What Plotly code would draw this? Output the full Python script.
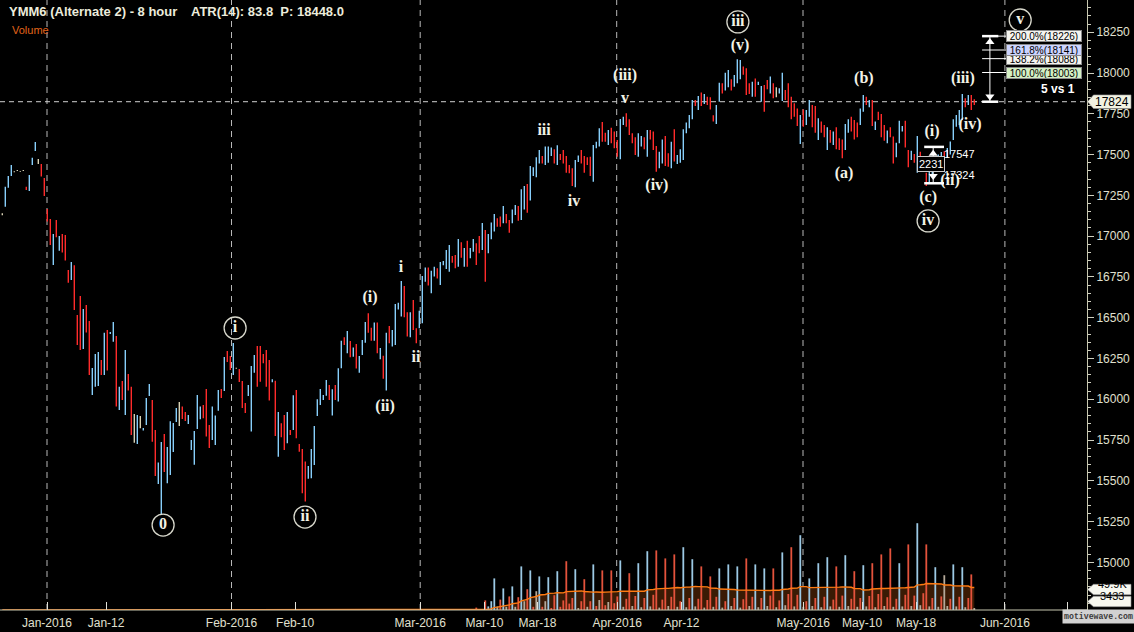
import plotly.graph_objects as go
import pandas as pd

# ---------------- data (8-hour bars, index 1..325) ----------------
high = [
17140,17303,17369,17436,17398,17406,17400,17406,17303,17375,
17481,17577,17473,17442,17356,17166,17105,17013,17099,17001,
17013,17007,16793,16842,16821,16517,16633,16554,16578,16480,
16192,16278,16290,16241,16407,16425,16413,16474,16388,16077,
16112,16302,16155,16077,15910,15904,15898,15824,16008,16094,
15996,15812,15612,15738,15787,15708,15865,15855,15947,15984,
15955,15922,15904,15751,15806,16026,15955,15965,16063,15843,
15955,15900,16057,16063,16259,16296,16265,16345,16193,16186,
16112,15977,16088,16204,16272,16327,16327,16278,16302,16241,
16122,16114,15922,15853,15904,15922,15812,16024,16057,15726,
15695,15618,15591,15695,15836,16000,16063,16026,16118,16088,
16061,16088,16190,16359,16380,16419,16357,16317,16339,16265,
16363,16474,16527,16439,16470,16470,16315,16267,16408,16449,
16425,16584,16592,16725,16694,16533,16533,16609,16435,16543,
16756,16807,16807,16788,16813,16803,16842,16848,16915,16946,
16878,16884,16983,16962,16927,16972,16927,16983,16956,17001,
17081,17038,17013,17083,17136,17109,17120,17185,17136,17099,
17164,17191,17185,17287,17307,17320,17430,17422,17483,17528,
17491,17549,17549,17544,17532,17557,17504,17528,17491,17436,
17416,17467,17495,17528,17491,17483,17487,17559,17579,17661,
17700,17634,17651,17665,17641,17589,17718,17732,17753,17716,
17630,17606,17630,17614,17606,17651,17651,17641,17553,17518,
17593,17614,17508,17579,17655,17497,17532,17655,17696,17743,
17835,17835,17859,17880,17871,17855,17851,17741,17804,17941,
17937,18002,18018,17961,17988,18084,18080,18040,18029,17937,
17947,17967,17947,17920,17926,17957,17978,17937,17912,17906,
18002,17896,17937,17855,17814,17783,17743,17777,17773,17835,
17804,17798,17722,17702,17681,17667,17651,17641,17667,17600,
17593,17687,17716,17732,17712,17696,17783,17865,17855,17835,
17835,17702,17763,17749,17681,17647,17667,17610,17573,17708,
17675,17708,17528,17524,17504,17614,17518,17483,17389,17400,
17440,17460,17500,17516,17520,17540,17580,17716,17743,17773,
17871,17845,17865,17865,17839]

low = [
17128,17180,17297,17369,17392,17400,17394,17400,17283,17277,
17436,17522,17442,17365,17246,17089,16946,16823,16993,16911,
16899,16850,16715,16731,16547,16333,16302,16308,16409,16149,
16026,16077,16082,16149,16149,16176,16400,16353,15955,15934,
15996,15904,16053,15781,15734,15726,15822,15808,15843,16020,
15740,15530,15481,15297,15554,15485,15536,15677,15861,15836,
15879,15867,15849,15689,15599,15818,15877,15883,15771,15701,
15751,15720,15930,16008,16051,16229,16180,16149,16187,16106,
15947,15916,16020,15802,16163,16077,16108,16221,16077,15992,
16104,15775,15648,15767,15689,15730,15781,15812,15761,15679,
15424,15373,15512,15516,15597,15898,15965,15996,16022,15996,
15900,15996,15986,16190,16333,16282,16257,16261,16188,16163,
16272,16347,16408,16359,16359,16282,16245,16126,16053,16343,
16323,16333,16551,16507,16502,16384,16380,16425,16343,16435,
16466,16721,16697,16650,16752,16741,16701,16821,16799,16782,
16837,16803,16813,16868,16813,16813,16864,16905,16823,16895,
16915,16721,16895,16981,17028,17058,17058,17079,17079,17021,
17079,17130,17095,17099,17164,17144,17218,17369,17361,17446,
17446,17436,17450,17491,17446,17436,17467,17446,17389,17385,
17307,17299,17455,17446,17389,17436,17369,17334,17538,17549,
17579,17579,17559,17569,17538,17487,17471,17681,17671,17620,
17569,17497,17487,17549,17532,17487,17593,17528,17395,17416,
17446,17430,17426,17416,17457,17442,17450,17467,17630,17661,
17716,17798,17773,17798,17810,17804,17777,17702,17687,17824,
17875,17892,17912,17892,17916,17937,17961,17990,17865,17871,
17855,17855,17926,17824,17763,17900,17875,17845,17851,17875,
17828,17835,17790,17716,17732,17675,17565,17671,17681,17732,
17667,17634,17589,17634,17606,17528,17573,17559,17532,17528,
17477,17528,17634,17641,17593,17606,17681,17763,17804,17790,
17675,17651,17712,17606,17585,17569,17606,17446,17483,17569,
17641,17544,17422,17467,17450,17389,17436,17422,17307,17330,
17370,17400,17430,17467,17470,17480,17500,17589,17671,17681,
17712,17790,17804,17773,17804]

# b = up (blue), r = down (red), w = neutral (beige)
bar_color_codes = (
    "wbbbwwwwrb" "bbwrrrrbrb" "rrrbrrrbrr" "bbbrbrbbrb" "rbrrwbwbbb"
    "rrbbrbbbbw" "rrbbbbbrrr" "bbbrbrrbwr" "rrbbbrrrrr" "brbrrbrbrr"
    "rrbbbbbbbr" "brbbrbrbrb" "bbrrbrbrbr" "bbbbrrbrrb" "bbrbbrbbbb"
    "rrbrbrbbrr" "brbbbrrbrr" "bbrbbrbbbb" "rbbbrbrrrr" "rbbrrrrbbb"
    "rrbrrrbbrr" "rrbbrbrrrb" "brrbrbbbbb" "brbrbrrrbb" "rbbrbbbrrr"
    "brbbrrbrwb" "brrrrrbrbb" "rrbrrbrbrr" "rbbrrrbbrb" "rbrrrbrrbb"
    "brrbrbrrrb" "brbbrbbbbb" "brbrr")

volume_start_bar = 159
volume_k = [
6,0,0,24,9,22,79,9,26,54,8,34,59,8,32,109,22,52,99,8,47,84,8,22,82,5,37,97,8,24,
122,16,30,102,5,22,77,8,22,114,10,25,99,12,20,99,17,34,124,
8,28,92,10,35,117,7,30,147,9,
38,149,6,26,129,10,33,139,8,22,
157,7,30,127,9,28,109,6,25,84,
8,33,104,6,22,114,10,30,109,6,
27,129,10,33,114,7,30,104,10,36,
104,7,24,144,12,40,157,9,38,187,
8,22,79,10,30,117,7,33,132,9,
26,109,8,36,137,10,28,97,8,30,
112,9,35,117,7,40,139,10,32,154,
8,28,117,9,38,164,10,36,217,12,
42,164,9,30,107,8,34,87,10,28,
114,9,33,107,7,30,89,5]
volume_color_codes = (
    "rrrrbbbwrb" "wrbwrbwrbr" "wbrwbrrbrr" "rrrbwrrwrb" "rwrrwrrrb"
    "wrrwrbwrbw" "rrwrrwrrwr" "bwrbwrrwrr" "wrbwrbwrbw" "rrwrbwrbwr"
    "rwrbwrrwrb" "wrbwrbwrbw" "rrwrbwrrwr" "bwrrwrrwrr" "wrbwrrwrbw"
    "rrwrbwrwwr" "bwrbwrrw")

tick_pos = [15.9, 35.6, 77.4, 98.6, 140.3, 161.7, 179.4, 206.0, 227.4,
            268.0, 287.6, 305.6, 335.2, 356.2]
tick_text = ["Jan-2016", "Jan-12", "Feb-2016", "Feb-10", "Mar-2016", "Mar-10",
             "Mar-18", "Apr-2016", "Apr-12", "May-2016", "May-10", "May-18",
             "Jun-2016", ""]
month_lines = [15.9, 77.4, 140.3, 205.8, 267.9, 335.2]
price_ticks = [15000, 15250, 15500, 15750, 16000, 16250, 16500, 16750, 17000,
               17250, 17500, 17750, 18000, 18250]

wave_text = ["0", "i", "ii", "(i)", "(ii)", "i", "ii", "iii", "iv", "(iii)", "v",
             "(iv)", "iii", "(v)", "(a)", "(b)", "(c)", "iv", "(i)", "(ii)",
             "(iii)", "(iv)", "v"]
wave_x = [54.6, 78.6, 101.9, 123.6, 128.6, 133.9, 138.9, 181.6, 191.6, 208.6,
          208.6, 219.2, 246.2, 246.9, 281.6, 288.2, 309.6, 309.6, 310.9, 316.9,
          321.2, 323.6, 340.3]
wave_y = [15229, 16437, 15278, 16621, 15953, 16805, 16253, 17644, 17209, 17982,
          17841, 17307, 18313, 18166, 17381, 17963, 17234, 17093, 17638, 17338,
          17963, 17681, 18325]
wave_circled = [1, 1, 1, 0, 0, 0, 0, 0, 0, 0, 0, 0, 1, 0, 0, 0, 0, 1, 0, 0, 0, 0, 1]

fib_pct = ["200.0%", "138.2%", "161.8%", "100.0%"]
fib_level = [18226, 18088, 18141, 18003]
fib_bg = ["#f4f4f0", "#f4f4f0", "#ccd4ff", "#d4f0c4"]
last_price = 17824
measure_hi, measure_lo = 17547, 17324
volume_tag_text = ["49.9K", "3433"]

# ---------------- geometry helpers ----------------
W, H = 1134, 632
PLOT_H = 610            # plot area height in px (x axis at bottom)
AXIS_PX = 1087          # price axis position in px
X0 = 0.233              # bar index at left edge
PX_PER_BAR = 3.0
X1 = X0 + W / PX_PER_BAR


def bx(px):
    """pixel column -> bar-index coordinate"""
    return X0 + px / PX_PER_BAR


def py(px):
    """pixel row -> paper y"""
    return (PLOT_H - px) / PLOT_H


# ---------------- figure ----------------
price_colors = {"b": "#87cefa", "r": "#ff2b2b", "w": "#d8d2b4"}
vol_palette = {"b": "#9cc9e4", "r": "#e4533c", "w": "#b4a898"}
bar_index = list(range(1, len(high) + 1))

fig = go.Figure()

for code, col in price_colors.items():
    xs, ys = [], []
    for i, c in enumerate(bar_color_codes):
        if c == code:
            xs += [bar_index[i], bar_index[i], None]
            ys += [low[i], high[i], None]
    fig.add_trace(go.Scatter(x=xs, y=ys, mode="lines", hoverinfo="skip",
                             line=dict(color=col, width=1.4), showlegend=False))

# volume
vol_full = [0.0] * len(high)
for k, v in enumerate(volume_k):
    vol_full[volume_start_bar - 1 + k] = v
ma = pd.Series(vol_full).rolling(21, min_periods=1).mean()

fig.add_trace(go.Scatter(x=bar_index, y=ma, yaxis="y2", mode="lines", fill="tozeroy",
                         fillcolor="#3a1b05", line=dict(width=0), hoverinfo="skip",
                         showlegend=False))
for code, col in vol_palette.items():
    xs, ys = [], []
    for k, c in enumerate(volume_color_codes):
        if c == code and volume_k[k] > 0:
            n = volume_start_bar + k
            xs += [n, n, None]
            ys += [0, volume_k[k], None]
    fig.add_trace(go.Scatter(x=xs, y=ys, yaxis="y2", mode="lines", hoverinfo="skip",
                             line=dict(color=col, width=1.8), showlegend=False))
fig.add_trace(go.Scatter(x=bar_index, y=ma, yaxis="y2", mode="lines",
                         line=dict(color="#ff7b12", width=1.4), hoverinfo="skip",
                         showlegend=False))

# wave labels
cx = [x for x, c in zip(wave_x, wave_circled) if c]
cy = [y for y, c in zip(wave_y, wave_circled) if c]
fig.add_trace(go.Scatter(x=cx, y=cy, mode="markers", hoverinfo="skip", showlegend=False,
                         marker=dict(symbol="circle-open", size=22, color="#d8d8cc",
                                     line=dict(width=1.3))))
fig.add_trace(go.Scatter(x=wave_x, y=wave_y, mode="text", text=wave_text,
                         textposition="middle center", hoverinfo="skip", showlegend=False,
                         textfont=dict(family="Liberation Serif", size=16,
                                       color="#f2f2e6", weight="bold")))

# tool arrowheads
fig.add_trace(go.Scatter(x=[311.3, 311.3, 330.2, 330.2], y=[17505, 17368, 18190, 17856],
                         mode="markers", hoverinfo="skip", showlegend=False,
                         marker=dict(symbol=["triangle-up", "triangle-down", "triangle-up",
                                             "triangle-down"], size=8, color="#ffffff")))

shapes = []
for m in month_lines:
    shapes.append(dict(type="line", xref="x", yref="paper", x0=m, x1=m, y0=0, y1=1,
                       line=dict(color="#b8b8b8", width=1, dash="6px,5px"), layer="below"))
shapes.append(dict(type="line", xref="x", yref="y", x0=X0, x1=bx(AXIS_PX), y0=last_price,
                   y1=last_price, line=dict(color="#d0d0d0", width=1, dash="5px,4px"),
                   layer="below"))
# x axis baseline (ends at the price axis)
shapes.append(dict(type="line", xref="x", yref="paper", x0=X0, x1=bx(AXIS_PX), y0=0, y1=0,
                   line=dict(color="#c8c8b0", width=1)))
# fib projection tool
shapes.append(dict(type="line", xref="x", yref="y", x0=330.2, x1=330.2, y0=fib_level[0],
                   y1=last_price, line=dict(color="#ffffff", width=1)))
for lv in fib_level:
    shapes.append(dict(type="line", xref="x", yref="y", x0=327.6, x1=335.8, y0=lv, y1=lv,
                       line=dict(color="#ffffff", width=1)))
for lv in (fib_level[0], last_price):
    shapes.append(dict(type="line", xref="x", yref="y", x0=327.6, x1=333.0, y0=lv, y1=lv,
                       line=dict(color="#ffffff", width=2.5)))
# measurement tool
for lv in (measure_hi, measure_lo):
    shapes.append(dict(type="line", xref="x", yref="y", x0=308.3, x1=314.9, y0=lv, y1=lv,
                       line=dict(color="#ffffff", width=2.5)))
shapes.append(dict(type="line", xref="x", yref="y", x0=311.3, x1=311.3, y0=measure_hi,
                   y1=measure_lo, line=dict(color="#ffffff", width=1)))

# tags on the right axis
tip, b0, b1 = bx(AXIS_PX + 0.5), bx(AXIS_PX + 6.5), bx(AXIS_PX + 44)
hp = 6.8 * 6.13
shapes.append(dict(type="path", xref="x", yref="y",
                   path=f"M {tip},{last_price} L {b0},{last_price+hp} L {b1},{last_price+hp} "
                        f"L {b1},{last_price-hp} L {b0},{last_price-hp} Z",
                   fillcolor="#f2f2e2", line=dict(color="#909090", width=0.6)))
vol_tag_rows = [589.5, 601.5]
for ypx in vol_tag_rows:
    yc, h = py(ypx), 5.2 / PLOT_H
    shapes.append(dict(type="path", xref="x", yref="paper",
                       path=f"M {tip},{yc} L {b0},{yc+h} L {b1},{yc+h} L {b1},{yc-h} "
                            f"L {b0},{yc-h} Z",
                       fillcolor="#f8f8f0", line=dict(color="#909090", width=0.6)))

ann = []
font_ui = "Liberation Sans"
ann.append(dict(xref="paper", yref="paper", x=7 / W, y=py(12), xanchor="left",
                yanchor="middle", showarrow=False, text="<b>YMM6 (Alternate 2) - 8 hour</b>",
                font=dict(family=font_ui, size=13, color="#ececdc")))
ann.append(dict(xref="paper", yref="paper", x=189 / W, y=py(12), xanchor="left",
                yanchor="middle", showarrow=False,
                text="<b>ATR(14): 83.8\u00a0 P: 18448.0</b>",
                font=dict(family=font_ui, size=13, color="#ececdc")))
ann.append(dict(xref="paper", yref="paper", x=10 / W, y=py(30), xanchor="left",
                yanchor="middle", showarrow=False, text="Volume",
                font=dict(family=font_ui, size=11, color="#e2651a")))
for pct, lv, bg in zip(fib_pct, fib_level, fib_bg):
    ann.append(dict(xref="x", yref="y", x=348.2, y=lv, showarrow=False,
                    text=f"{pct}({lv})", bgcolor=bg, bordercolor="#8a8a8a", borderwidth=1,
                    borderpad=0, width=74, height=10,
                    font=dict(family=font_ui, size=10, color="#000000")))
ann.append(dict(xref="x", yref="y", x=352.9, y=17902, showarrow=False, text="<b>5 vs 1</b>",
                font=dict(family=font_ui, size=12, color="#ffffff")))
ann.append(dict(xref="x", yref="y", x=310.6, y=17440, showarrow=False, text="2231",
                bgcolor="#000000", bordercolor="#c8c8c8", borderwidth=1, borderpad=1,
                font=dict(family=font_ui, size=11, color="#ffffff")))
ann.append(dict(xref="x", yref="y", x=314.3, y=17503, xanchor="left", showarrow=False,
                text=str(measure_hi), font=dict(family=font_ui, size=11, color="#ffffff")))
ann.append(dict(xref="x", yref="y", x=314.3, y=17375, xanchor="left", showarrow=False,
                text=str(measure_lo), font=dict(family=font_ui, size=11, color="#ffffff")))
tag_center = bx(AXIS_PX + 25)
ann.append(dict(xref="x", yref="y", x=tag_center, y=last_price, showarrow=False,
                text=str(last_price), font=dict(family=font_ui, size=12, color="#000000")))
for txt, ypx in zip(volume_tag_text, vol_tag_rows):
    ann.append(dict(xref="x", yref="paper", x=tag_center, y=py(ypx), showarrow=False,
                    text=txt, height=10, borderpad=0,
                    font=dict(family=font_ui, size=11, color="#000000")))
ann.append(dict(xref="x", yref="paper", x=bx(1098.5), y=py(624), showarrow=False,
                text="<b>motivewave.com</b>", bgcolor="#d2d2d2",
                width=71, height=13, borderpad=0,
                font=dict(family="Liberation Mono", size=8.2, color="#3a3a3a")))

fig.update_layout(
    width=W, height=H,
    margin=dict(l=0, r=0, t=0, b=H - PLOT_H),
    paper_bgcolor="#000000", plot_bgcolor="rgba(0,0,0,0)",
    showlegend=False, shapes=shapes, annotations=ann,
    xaxis=dict(range=[X0, X1], tickvals=tick_pos, ticktext=tick_text,
               ticks="inside", ticklen=8, tickcolor="#e0e0d8", showgrid=False,
               zeroline=False, showline=False, ticklabelstandoff=4,
               tickfont=dict(family=font_ui, size=12, color="#e0e0d0")),
    yaxis=dict(range=[14708.2, 18447.5], side="right", anchor="free",
               position=AXIS_PX / W, tickvals=price_ticks,
               tickformat="d", ticks="outside", ticklen=6, tickcolor="#d0d0c0",
               showgrid=False, zeroline=False, showline=True, linecolor="#c8c8b0",
               minor=dict(dtick=50, ticks="outside", ticklen=3, tickcolor="#d0d0c0"),
               tickfont=dict(family=font_ui, size=12, color="#e0e0d0")),
    yaxis2=dict(range=[0, 1525], overlaying="y", side="right", visible=False),
)

fig.write_html("out.html", config={"displayModeBar": False},
               post_script="document.body.style.margin='0';document.body.style.background='#000';")
